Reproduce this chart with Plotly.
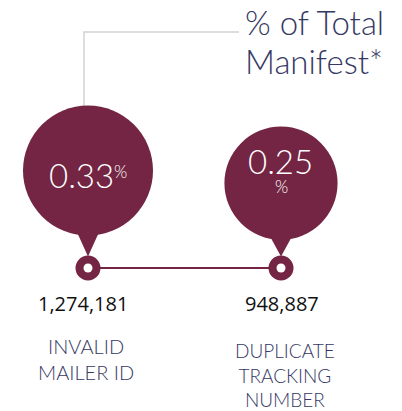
import math
import plotly.graph_objects as go

# ---- data ----
categories = ["INVALID<br>MAILER ID", "DUPLICATE<br>TRACKING<br>NUMBER"]
pct_values = [0.33, 0.25]
counts = [1274181, 948887]
title_lines = ["% of Total", "Manifest*"]

# ---- layout constants (pixel space) ----
W, H = 402, 411
MAROON = "#732543"
NAVY = "#353863"
cx = [88, 281]          # category centres
node_y = 268
node_r = 12.5
hole_r = 4.5
k = 65 / math.sqrt(0.33)  # bubble radius scale (area ~ value)

fig = go.Figure()
shapes = []
annotations = []

radii = [k * math.sqrt(v) for v in pct_values]
cys = [node_y - 1.5 * r for r in radii]

# grey leader line from title to first bubble
shapes.append(dict(type="path",
                   path=f"M 239,32 L {cx[0]-4},32 L {cx[0]-4},{cys[0]-radii[0]+1}",
                   line=dict(color="#d2d2d2", width=1.5), layer="below"))

# connector between nodes
shapes.append(dict(type="line", x0=cx[0], x1=cx[1], y0=node_y, y1=node_y,
                   line=dict(color=MAROON, width=2)))

count_x = [-5, 1]
label_x = [-2, 4]
label_y = [359, 375]
label_size = [20, 19]

for i, v in enumerate(pct_values):
    r = radii[i]
    cy = cys[i]
    x = cx[i]
    shapes.append(dict(type="circle", x0=x - r, x1=x + r, y0=cy - r, y1=cy + r,
                       fillcolor=MAROON, line=dict(width=0)))
    by = cy + 0.83 * r
    shapes.append(dict(type="path",
                       path=f"M {x-14.5},{by} L {x+14.5},{by} L {x},{node_y-node_r+1} Z",
                       fillcolor=MAROON, line=dict(width=0)))
    shapes.append(dict(type="circle", x0=x - node_r, x1=x + node_r,
                       y0=node_y - node_r, y1=node_y + node_r,
                       fillcolor=MAROON, line=dict(width=0)))
    shapes.append(dict(type="circle", x0=x - hole_r, x1=x + hole_r,
                       y0=node_y - hole_r, y1=node_y + hole_r,
                       fillcolor="white", line=dict(width=0)))

    # counts
    annotations.append(dict(x=x + count_x[i], y=303, text=f"{counts[i]:,}",
                            showarrow=False, xanchor="center", yanchor="middle",
                            font=dict(family="Open Sans", size=20, color="#111111")))
    # category label
    annotations.append(dict(x=x + label_x[i], y=label_y[i],
                            text=categories[i], showarrow=False,
                            xanchor="center", yanchor="middle",
                            font=dict(family="Lato", size=label_size[i], color=NAVY, weight=300)))

# bubble percentage labels
annotations.append(dict(x=cx[0] - 7, y=175, text=f"{pct_values[0]:.2f}", showarrow=False,
                        xanchor="center", yanchor="middle",
                        font=dict(family="Lato", size=33, color="white", weight=300)))
annotations.append(dict(x=cx[0] + 24, y=171, text="%", showarrow=False,
                        xanchor="left", yanchor="middle",
                        font=dict(family="Lato", size=17, color="white", weight=300)))
annotations.append(dict(x=cx[1] - 1, y=161, text=f"{pct_values[1]:.2f}", showarrow=False,
                        xanchor="center", yanchor="middle", height=28, valign="middle",
                        font=dict(family="Lato", size=33, color="white", weight=300)))
annotations.append(dict(x=cx[1], y=186, text="%", showarrow=False,
                        xanchor="center", yanchor="middle", height=16, valign="middle",
                        font=dict(family="Lato", size=17, color="white", weight=300)))

# title
annotations.append(dict(x=243, y=22, text=title_lines[0], showarrow=False,
                        xanchor="left", yanchor="middle",
                        font=dict(family="Lato", size=33, color=NAVY, weight=300)))
annotations.append(dict(x=243, y=61, text=title_lines[1], showarrow=False,
                        xanchor="left", yanchor="middle",
                        font=dict(family="Lato", size=33, color=NAVY, weight=300)))

fig.update_layout(
    width=W, height=H, autosize=False,
    margin=dict(l=0, r=0, t=0, b=0),
    paper_bgcolor="white", plot_bgcolor="white",
    xaxis=dict(range=[0, W], visible=False, fixedrange=True),
    yaxis=dict(range=[H, 0], visible=False, fixedrange=True),
    shapes=shapes, annotations=annotations, showlegend=False,
)
fig.write_html("out.html", config={"displayModeBar": False},
               post_script="document.body.style.margin='0';document.body.style.overflow='hidden';")
